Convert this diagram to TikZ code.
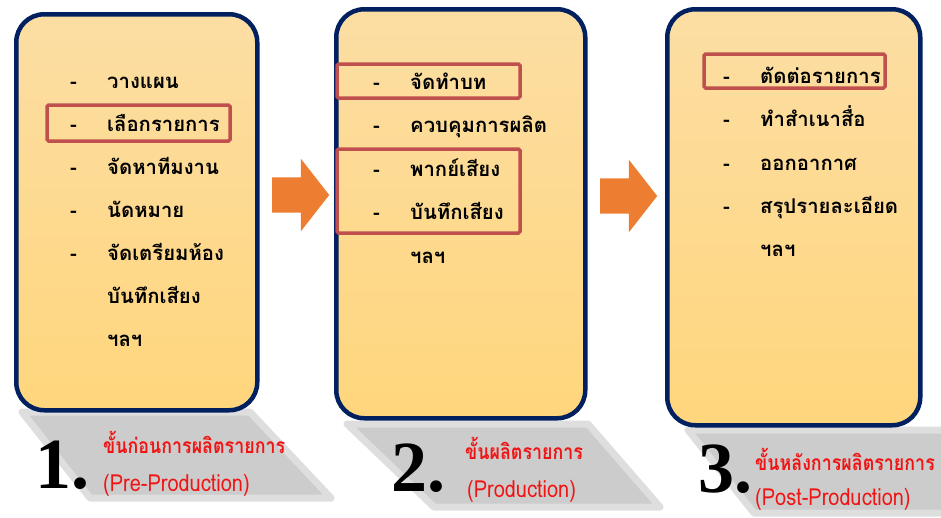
\documentclass[tikz,border=0pt]{standalone}
\usepackage{fontspec}
\newfontfamily\thaifont[Script=Thai]{Loma}
\newfontfamily\titlefont[Script=Thai,FakeStretch=0.85]{Loma}
\newfontfamily\numfont{Liberation Serif}
\usetikzlibrary{shapes.arrows}

\definecolor{boxnavy}{HTML}{002060}
\definecolor{boxtop}{HTML}{FCDEA4}
\definecolor{boxbottom}{HTML}{FFD67C}
\definecolor{hlred}{HTML}{C0504D}
\definecolor{arroworange}{HTML}{ED7D31}
\definecolor{titlered}{HTML}{F01414}

\tikzset{
  stagebox/.style = {rectangle, draw = boxnavy, line width = 4.5pt,
    rounded corners = 28pt, top color = boxtop, bottom color = boxbottom,
    anchor = north west, inner sep = 0pt},
  stagearrow/.style = {single arrow, fill = arroworange, draw = none,
    minimum height = 57pt, inner xsep = 0pt, inner ysep = 17.5pt,
    single arrow head extend = 18.5pt, single arrow tip angle = 104,
    anchor = tail},
  item/.style = {anchor = base west, inner sep = 0pt,
    font = \thaifont\bfseries\fontsize{20.3}{20.3}\selectfont},
  hlbox/.style = {draw = hlred, line width = 3.5pt, rounded corners = 1.5pt},
  shadowbox/.style = {fill = black!20, draw = black!13, line width = 7pt,
    line join = round},
  stepnum/.style = {anchor = base west, inner sep = 0pt,
    font = \numfont\bfseries\fontsize{72}{72}\selectfont},
  steptitle/.style = {anchor = base west, inner sep = 0pt, text = titlered,
    font = \titlefont\bfseries\fontsize{21}{21}\selectfont},
  stepname/.style = {anchor = base west, inner sep = 0pt, text = titlered,
    font = \titlefont\fontsize{23.5}{23.5}\selectfont}
}

\begin{document}
\begin{tikzpicture}[x = 1pt, y = -1pt]
  \useasboundingbox (0,0) rectangle (941,517);

  % shadows under the boxes
  \filldraw[shadowbox] (22,412) -- (250,412) -- (331,498) -- (90,498) -- cycle;
  \filldraw[shadowbox] (347,424) -- (588,424) -- (660,507) -- (434,507) -- cycle;
  \filldraw[shadowbox] (688,430) -- (946,430) -- (946,513) -- (754,513) -- cycle;

  % the three stages
  \node[stagebox, minimum width = 241pt, minimum height = 396pt] (pre) at (14,12) {};
  \node[stagebox, minimum width = 249pt, minimum height = 409pt] (prod) at (334,7) {};
  \node[stagebox, minimum width = 253pt, minimum height = 416pt] (post) at (665,7) {};

  \node[stagearrow] (to-prod) at (272,195) {};
  \node[stagearrow] (to-post) at (600,196) {};

  % items
  \foreach \txt [count = \i] in {วางแผน, เลือกรายการ, จัดหาทีมงาน, นัดหมาย,
      จัดเตรียมห้อง, บันทึกเสียง, ฯลฯ}
    \node[item] (pre-\i) at (107, {88.5 + (\i - 1) * 43}) {\txt};
  \foreach \i in {1,...,5}
    \node[item] (pre-dash-\i) at (70, {88.5 + (\i - 1) * 43}) {-};

  \foreach \txt [count = \i] in {จัดทำบท, ควบคุมการผลิต, พากย์เสียง, บันทึกเสียง, ฯลฯ}
    \node[item] (prod-\i) at (410, {89.5 + (\i - 1) * 43.4}) {\txt};
  \foreach \i in {1,...,4}
    \node[item] (prod-dash-\i) at (373, {89.5 + (\i - 1) * 43.4}) {-};

  \foreach \txt [count = \i] in {ตัดต่อรายการ, ทำสำเนาสื่อ, ออกอากาศ, สรุปรายละเอียด, ฯลฯ}
    \node[item] (post-\i) at (760, {83.5 + (\i - 1) * 43.3}) {\txt};
  \foreach \i in {1,...,4}
    \node[item] (post-dash-\i) at (723, {83.5 + (\i - 1) * 43.3}) {-};

  % highlighted items
  \draw[hlbox] (47,105) rectangle (230,141);
  \draw[hlbox] (337,64) rectangle (520,98);
  \draw[hlbox] (337,149) rectangle (520,233);
  \draw[hlbox] (704,54) rectangle (885,88);

  % step labels
  \node[stepnum] (num-1) at (35,488) {1.};
  \node[steptitle] (title-1) at (103,453) {ขั้นก่อนการผลิตรายการ};
  \node[stepname] (name-1) at (103,491) {(Pre-Production)};

  \node[stepnum] (num-2) at (391,491) {2.};
  \node[steptitle] (title-2) at (465,459) {ขั้นผลิตรายการ};
  \node[stepname] (name-2) at (467,497) {(Production)};

  \node[stepnum] (num-3) at (698,492) {3.};
  \node[steptitle] (title-3) at (755,470) {ขั้นหลังการผลิตรายการ};
  \node[stepname] (name-3) at (755,505) {(Post-Production)};
\end{tikzpicture}
\end{document}
